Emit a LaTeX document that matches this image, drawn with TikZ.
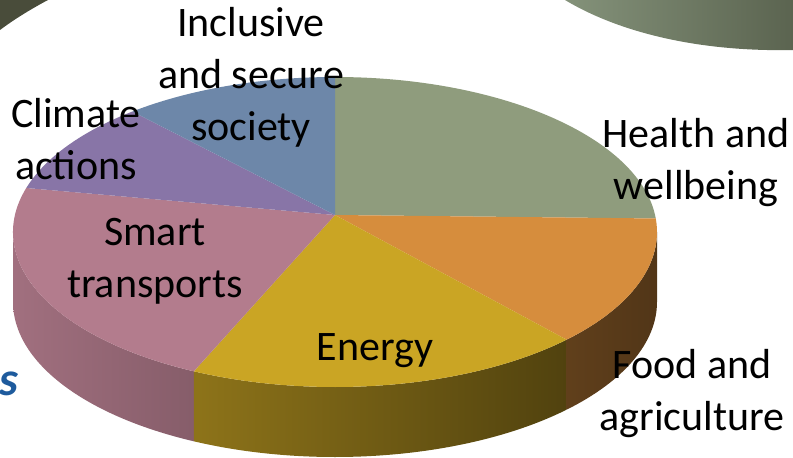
\documentclass[tikz,border=0pt]{standalone}
\usepackage{fontspec}
\setmainfont{Carlito}
\usetikzlibrary{calc}

\definecolor{health}{HTML}{8F9C7D}
\definecolor{food}{HTML}{D68D3D}
\definecolor{energy}{HTML}{CAA524}
\definecolor{smart}{HTML}{B37C8D}
\definecolor{climate}{HTML}{8875A7}
\definecolor{society}{HTML}{6D87A9}
\definecolor{dblue}{HTML}{1E5B9D}
\definecolor{darkolive}{HTML}{494C3A}
\definecolor{sageleft}{HTML}{84927A}
\definecolor{sageright}{HTML}{5B6450}

\begin{document}
\begin{tikzpicture}[x=1pt,y=1pt,
      lbl/.style={align=center,inner sep=0pt,
        font=\fontsize{42}{52}\selectfont},
      slice/.style={draw=none,fill=#1},
      rim/.style 2 args={draw=none,left color=#1,right color=#2}]
      \useasboundingbox (0,0) rectangle (793,458);

      % background shapes
      \fill[darkolive]
        (0,428) .. controls (16,440) and (33,450) .. (48,458) -- (0,458) -- cycle;
      \path[rim={sageleft}{sageright}]
        (565,458) .. controls (620,425) and (700,406) .. (793,408)
        -- (793,458) -- cycle;

      \coordinate (c) at (335,226);
      \coordinate (o) at (335,243);

      % sides
      \path[rim={smart!90!black}{smart!75!black}]
        ($(c)+(-180:322 and 155)$) arc[start angle=-180,end angle=-116,x radius=322,y radius=155]
        -- ++(0,-70) arc[start angle=-116,end angle=-180,x radius=322,y radius=155] -- cycle;
      \path[rim={energy!70!black}{energy!40!black}]
        ($(c)+(-116:322 and 155)$) arc[start angle=-116,end angle=-44,x radius=322,y radius=155]
        -- ++(0,-70) arc[start angle=-44,end angle=-116,x radius=322,y radius=155] -- cycle;
      \path[rim={food!45!black}{food!38!black}]
        ($(c)+(-44:322 and 155)$) arc[start angle=-44,end angle=0,x radius=322,y radius=155]
        -- ++(0,-70) arc[start angle=0,end angle=-44,x radius=322,y radius=155] -- cycle;

      % top
      \path[slice=health] (o) -- ($(c)+(90:322 and 155)$)
        arc[start angle=90,end angle=5,x radius=322,y radius=155] -- cycle;
      \path[slice=food] (o) -- ($(c)+(5:322 and 155)$)
        arc[start angle=5,end angle=-44,x radius=322,y radius=155] -- cycle;
      \path[slice=energy] (o) -- ($(c)+(-44:322 and 155)$)
        arc[start angle=-44,end angle=-116,x radius=322,y radius=155] -- cycle;
      \path[slice=smart] (o) -- ($(c)+(-116:322 and 155)$)
        arc[start angle=-116,end angle=-196.5,x radius=322,y radius=155] -- cycle;
      \path[slice=climate] (o) -- ($(c)+(163.5:322 and 155)$)
        arc[start angle=163.5,end angle=129,x radius=322,y radius=155] -- cycle;
      \path[slice=society] (o) -- ($(c)+(129:322 and 155)$)
        arc[start angle=129,end angle=90,x radius=322,y radius=155] -- cycle;

      % labels
      \node[lbl] (incl) at (251,381) {Inclusive\\and secure\\society};
      \node[lbl] (clim) at (76,319) {Climate\\actions};
      \node[lbl] (heal) at (696,295) {Health and\\wellbeing};
      \node[lbl] (smrt) at (155,197) {Smart\\transports};
      \node[lbl] (enrg) at (375,107) {Energy};
      \node[lbl] (fooda) at (692,64) {Food and\\agriculture};
      \node[inner sep=0pt,anchor=east,text=dblue,
        font=\fontsize{48}{58}\selectfont\bfseries\itshape] (s) at (19,74) {s};
\end{tikzpicture}
\end{document}
